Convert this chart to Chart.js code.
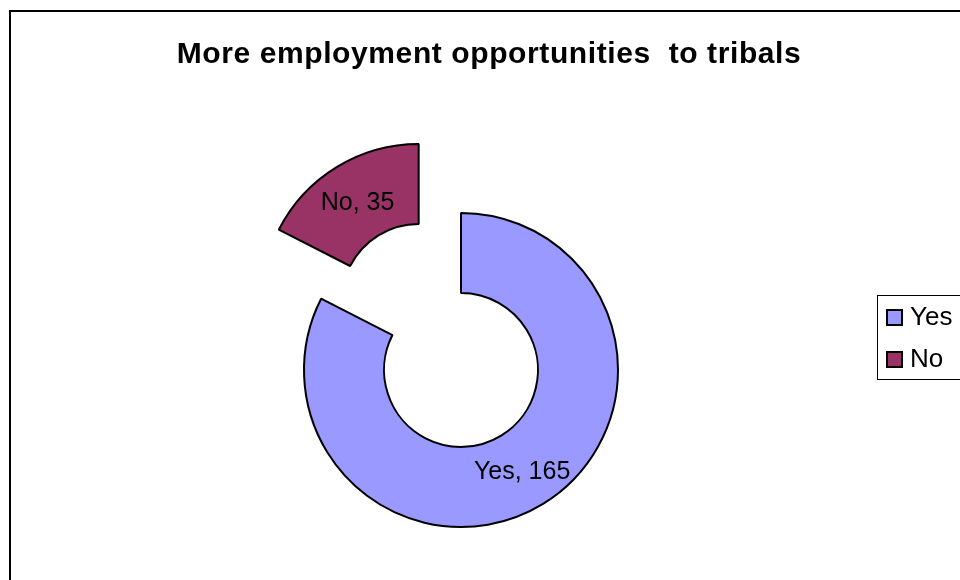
<!DOCTYPE html>
<html>
<head>
<meta charset="utf-8">
<title>More employment opportunities to tribals</title>
<script src="https://cdn.jsdelivr.net/npm/chart.js@4.4.1/dist/chart.umd.min.js"></script>
<style>
  html, body { margin: 0; padding: 0; background: #fff; }
  #wrap { width: 960px; height: 580px; }
</style>
</head>
<body>
<div id="wrap"><canvas id="tribals" width="960" height="580"></canvas></div>
<script>
// survey answers
var answers = ["Yes", "No"];
var counts = [165, 35];
var sliceColors = ["#9999FF", "#993366"];
var explodeBy = [0, 81];   // px each slice is pulled away from the centre

var chartTitle = "More employment opportunities  to tribals";
var FONT = '"Liberation Sans", Arial, sans-serif';

var canvasEl = document.getElementById('tribals');
var ctx = canvasEl.getContext('2d');

// white background + the outer frame (runs off the right/bottom edge)
var framePlugin = {
    id: 'frame',
    beforeDraw: function (chart) {
        var c = chart.ctx;
        c.save();
        c.fillStyle = '#fff';
        c.fillRect(0, 0, chart.width, chart.height);
        c.strokeStyle = '#000';
        c.lineWidth = 2;
        c.strokeRect(10, 11, chart.width + 20, chart.height + 20);
        c.restore();
    }
};

// pull slices straight out along their middle angle (keeps the slice shape)
var explodePlugin = {
    id: 'explode',
    afterDatasetUpdate: function (chart, args) {
        args.meta.data.forEach(function (arc, i) {
            var d = explodeBy[i] || 0;
            if (!d) return;
            var mid = (arc.startAngle + arc.endAngle) / 2;
            arc.x += Math.cos(mid) * d;
            arc.y += Math.sin(mid) * d;
        });
    }
};

// "Yes, 165" style labels in the middle of each slice
var sliceLabelPlugin = {
    id: 'sliceLabels',
    afterDatasetsDraw: function (chart) {
        var c = chart.ctx;
        var meta = chart.getDatasetMeta(0);
        c.save();
        c.font = '25px ' + FONT;
        c.fillStyle = '#000';
        c.textAlign = 'center';
        c.textBaseline = 'alphabetic';
        meta.data.forEach(function (arc, i) {
            var p = arc.tooltipPosition();
            c.fillText(answers[i] + ', ' + counts[i], p.x, p.y + 9);
        });
        c.restore();
    }
};

// bold title
var titlePlugin = {
    id: 'titleText',
    afterDraw: function (chart) {
        var c = chart.ctx;
        c.save();
        c.font = 'bold 30px ' + FONT;
        c.letterSpacing = '0.6px';
        c.fillStyle = '#000';
        c.textAlign = 'center';
        c.textBaseline = 'alphabetic';
        c.fillText(chartTitle, 489, 63);
        c.restore();
    }
};

// boxed legend on the right
var legendPlugin = {
    id: 'legendBox',
    afterDraw: function (chart) {
        var c = chart.ctx;
        c.save();
        c.strokeStyle = '#000';
        c.lineWidth = 1;
        c.strokeRect(877.5, 295.5, 120, 84);
        c.font = '26px ' + FONT;
        c.textBaseline = 'alphabetic';
        answers.forEach(function (lbl, i) {
            var top = 310 + i * 42;
            c.fillStyle = sliceColors[i];
            c.fillRect(887, top, 15, 15);
            c.lineWidth = 2;
            c.strokeRect(887, top, 15, 15);
            c.fillStyle = '#000';
            c.fillText(lbl, 910, top + 15);
        });
        c.restore();
    }
};

var ring = new Chart(ctx, {
    type: 'doughnut',
    data: {
        labels: answers,
        datasets: [{
            data: counts,
            backgroundColor: sliceColors,
            borderColor: '#000',
            borderWidth: 2,
            borderAlign: 'center'
        }]
    },
    options: {
        responsive: false,
        animation: false,
        events: [],
        radius: 157,
        cutout: '49%',
        layout: { padding: { left: 301, right: 339, top: 210, bottom: 50 } },
        plugins: {
            legend: { display: false },
            title: { display: false },
            tooltip: { enabled: false }
        }
    },
    plugins: [framePlugin, explodePlugin, sliceLabelPlugin, titlePlugin, legendPlugin]
});
</script>
</body>
</html>
